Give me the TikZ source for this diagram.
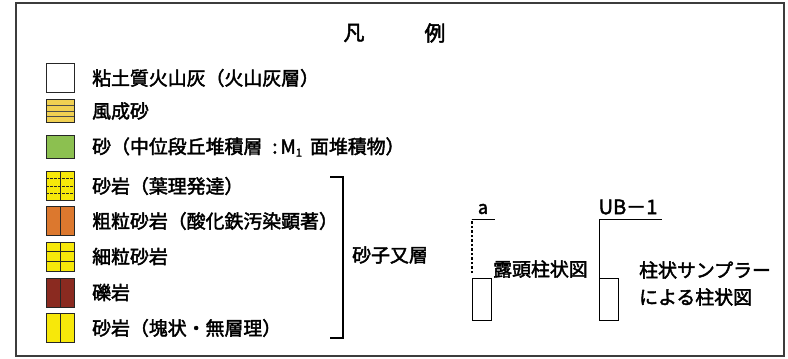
\documentclass[tikz,border=0pt]{standalone}
\usepackage{fontspec}
\setmainfont{Noto Sans CJK JP}[FakeBold=2.2]
\usetikzlibrary{calc}
\definecolor{fuusei}{RGB}{240,208,82}
\definecolor{sandgreen}{RGB}{140,192,80}
\definecolor{sandyellow}{RGB}{247,232,10}
\definecolor{coarseorange}{RGB}{220,120,46}
\definecolor{gravelred}{RGB}{138,42,32}
\definecolor{framegray}{RGB}{60,60,60}
\begin{document}
\begin{tikzpicture}[x=1pt,y=-1pt,
  legbox/.style={draw=black!85, line width=1pt, minimum width=28pt, minimum height=29pt, inner sep=0pt},
  shortbox/.style={legbox, minimum height=23pt},
  lbl/.style={anchor=west, inner sep=0pt, font=\fontsize{18.9}{21}\selectfont},
  vsplit/.style={path picture={\draw[black!85, line width=0.9pt] (path picture bounding box.north) -- (path picture bounding box.south);}},
  vhthirds/.style={path picture={
    \foreach \f in {0.333,0.667}{\draw[black!85, line width=0.9pt] ($(path picture bounding box.north west)!\f!(path picture bounding box.south west)$) -- ($(path picture bounding box.north east)!\f!(path picture bounding box.south east)$);}
    \draw[black!85, line width=0.9pt] (path picture bounding box.north) -- (path picture bounding box.south);}},
  hquarters/.style={path picture={
    \foreach \f in {0.25,0.5,0.75}{\draw[black!70, line width=0.9pt] ($(path picture bounding box.north west)!\f!(path picture bounding box.south west)$) -- ($(path picture bounding box.north east)!\f!(path picture bounding box.south east)$);}}},
  vhdashq/.style={path picture={
    \foreach \f in {0.25,0.5,0.75}{\draw[black!85, line width=1pt, dash pattern=on 2.5pt off 1.5pt] ($(path picture bounding box.north west)!\f!(path picture bounding box.south west)$) -- ($(path picture bounding box.north east)!\f!(path picture bounding box.south east)$);}
    \draw[black!85, line width=0.9pt] (path picture bounding box.north) -- (path picture bounding box.south);}},
  colbox/.style={draw=black, line width=0.9pt, minimum width=19pt, minimum height=42pt, inner sep=0pt, anchor=north west},
  colline/.style={draw=black, line width=0.9pt},
]
\fill[white] (0,0) rectangle (788,359);
\useasboundingbox (0,0) rectangle (788,359);
\draw[framegray, line width=1.6pt] (16,3) rectangle (784,356);

% title
\node[inner sep=0pt, font=\fontsize{21}{24}\selectfont] (t1) at (354,33) {凡};
\node[inner sep=0pt, font=\fontsize{21}{24}\selectfont] (t2) at (435,33) {例};

% legend boxes
\node[legbox, fill=white] (b1) at (60,78) {};
\node[shortbox, fill=fuusei, hquarters] (b2) at (60,111) {};
\node[shortbox, fill=sandgreen] (b3) at (60,147) {};
\node[legbox, fill=sandyellow, vhdashq] (b4) at (60,186) {};
\node[legbox, fill=coarseorange, vsplit] (b5) at (60,221) {};
\node[legbox, fill=sandyellow, vhthirds] (b6) at (60,256.5) {};
\node[legbox, fill=gravelred, vsplit] (b7) at (60,292.5) {};
\node[legbox, fill=sandyellow, vsplit] (b8) at (60,328) {};

% labels
\node[lbl] (l1) at (92,78) {粘土質火山灰（火山灰層）};
\node[lbl] (l2) at (92,111) {風成砂};
\node[lbl] (l3) at (92,147) {砂（中位段丘堆積層\hspace{10pt}:\hspace{3pt}M\raisebox{-0.3ex}{\fontsize{11}{11}\selectfont 1}\hspace{8pt}面堆積物）};
\node[lbl] (l4) at (92,186) {砂岩（葉理発達）};
\node[lbl] (l5) at (92,221) {粗粒砂岩（酸化鉄汚染顕著）};
\node[lbl] (l6) at (92,256.5) {細粒砂岩};
\node[lbl] (l7) at (92,292.5) {礫岩};
\node[lbl] (l8) at (92,328) {砂岩（塊状・無層理）};

% bracket
\coordinate (brA) at (330,177);
\coordinate (brB) at (343,177);
\coordinate (brC) at (343,338);
\coordinate (brD) at (330,338);
\draw[black, line width=1.4pt] (brA) -- (brB) -- (brC) -- (brD);
\node[lbl] (grp) at (352,255) {砂子又層};

% outcrop column symbol
\node[colbox] (colA) at (472,278) {};
\coordinate (aDash) at (472,273);
\coordinate (aTop) at (472,219);
\coordinate (aEnd) at (495,219);
\draw[colline, line width=1.1pt, dash pattern=on 2.5pt off 2pt] (aDash) -- (aTop);
\draw[colline] (aTop) -- (aEnd);
\node[inner sep=0pt, font=\fontsize{18}{20}\selectfont] (aLbl) at (483,209) {a};
\node[lbl] (outcrop) at (493,269) {露頭柱状図};

% sampler column symbol
\node[colbox] (colB) at (599,278) {};
\coordinate (ubTop) at (599,219);
\coordinate (ubEnd) at (662,219);
\draw[colline] (colB.north west) -- (ubTop) -- (ubEnd);
\node[inner sep=0pt, font=\fontsize{20}{22}\selectfont] (ubLbl) at (628,207) {UB－1};
\node[lbl] (samp1) at (639,270) {柱状サンプラー};
\node[lbl] (samp2) at (639,297) {による柱状図};
\end{tikzpicture}
\end{document}
